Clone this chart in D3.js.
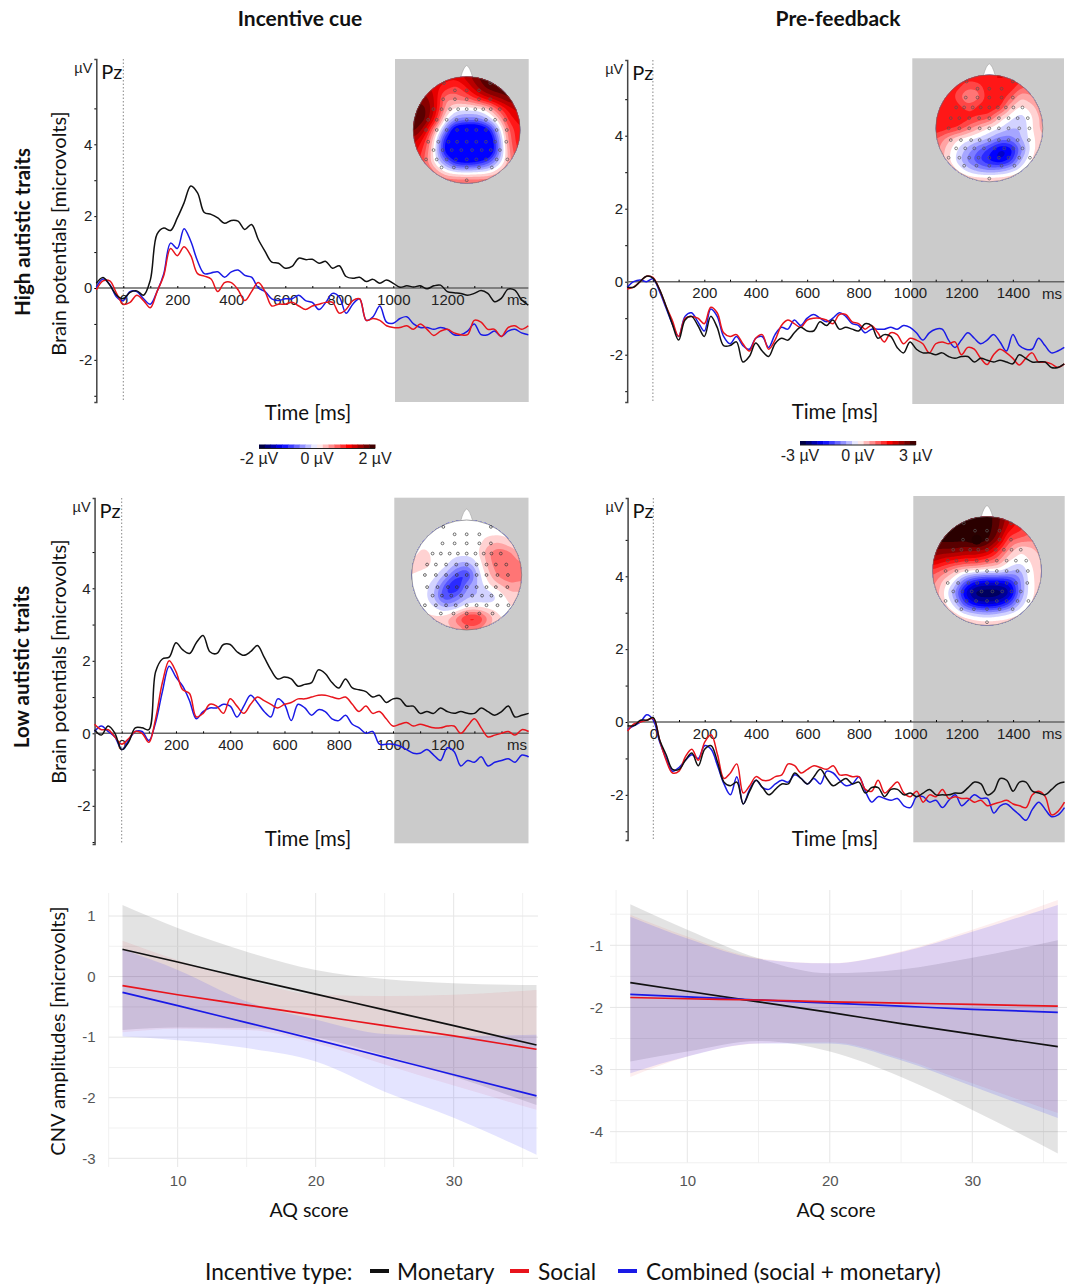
<!DOCTYPE html>
<html>
<head>
<meta charset="utf-8">
<script src="https://cdn.jsdelivr.net/npm/d3@7"></script>
<style>
  body { margin: 0; background: #fff; }
  svg { display: block; }
  .cal { font-family: Lato, sans-serif; fill: #111; }
  .ari { font-family: "Liberation Sans", Arial, sans-serif; fill: #222; }
</style>
</head>
<body>
<div class="canvas"></div>
<script>
// time samples of the ERP traces, ms
const timesCue = d3.range(-100, 1501, 25);
const timesFb = d3.range(-100, 1601, 25);

// high AQ, incentive cue
const highCueMonetary = [.13,.29,.08,-.2,-.3,-.12,-.08,-.2,.22,1.5,1.67,1.6,1.95,2.37,2.84,2.65,2.1,2.05,1.95,1.8,1.88,1.86,1.63,1.77,1.35,1.02,.72,.69,.55,.6,.83,.79,.8,.69,.74,.55,.62,.32,.27,.3,.18,.24,.13,.22,.13,.02,.06,.03,.06,-.02,.06,.08,-.1,-.13,-.15,-.2,-.15,-.07,-.15,-.38,-.29,-.03,-.06,-.33,-.48];
const highCueSocial = [-.05,.2,.2,-.15,-.45,-.4,-.2,-.35,-.55,-.1,.35,1.1,.9,1.15,.9,.4,.33,.25,-.1,.15,.15,-.05,-.35,-.1,.15,-.1,-.5,-.45,-.45,-.4,-.5,-.6,-.5,-.45,-.4,-.4,-.7,-.6,-.35,-.3,-.9,-.85,-.9,-1.05,-1.1,-1.1,-1.05,-1.15,-1,-1.15,-1.32,-1.2,-1.15,-1.25,-1.3,-1.3,-.9,-.95,-1.15,-1.15,-1.35,-1.1,-1.05,-1.15,-1.05];
const highCueCombined = [.02,.25,.1,-.25,-.35,-.1,-.1,-.3,-.45,-.1,.4,1.25,1.1,1.65,1.3,.75,.4,.42,.45,.3,.45,.5,.35,.3,0,-.1,-.3,-.35,-.3,-.3,-.2,-.35,-.4,-.6,-.4,-.15,-.25,-.7,-.45,-.3,-.9,-.8,-.5,-.95,-.98,-.85,-.8,-1,-1.1,-1.1,-1.15,-1.1,-1.15,-1.3,-1.3,-1.2,-1,-1.3,-1.3,-1.2,-1.35,-1.2,-1.15,-1.25,-1.3];

// high AQ, pre-feedback
const highFbMonetary = [-.15,-.15,0,.15,.1,-.2,-.65,-1.15,-1.6,-1.05,-.95,-1.2,-1.5,-.95,-1.25,-1.75,-1.75,-1.65,-2.2,-2.05,-1.68,-1.9,-2.05,-1.7,-1.55,-1.6,-1.4,-1.25,-1.35,-1.35,-1.1,-1.2,-1.05,-1.3,-1.25,-1.3,-1.35,-1.15,-1.2,-1.55,-1.45,-1.5,-1.8,-1.95,-1.65,-1.85,-1.95,-1.95,-2,-1.95,-2.05,-2.1,-2.05,-2.05,-2.2,-2.1,-2.15,-2.2,-2.15,-2.2,-2.25,-2,-2.1,-2.2,-2.2,-2.2,-2.35,-2.35,-2.25];
const highFbSocial = [-.2,-.15,0,.15,.12,-.2,-.65,-1.05,-1.5,-1,-.95,-1,-1.15,-.7,-.85,-1.4,-1.5,-1.45,-1.7,-1.9,-1.55,-1.45,-1.85,-1.6,-1.2,-1.05,-1.15,-1.25,-1.05,-1,-1,-1.05,-1.15,-.9,-.9,-1.1,-1.15,-1.3,-1.2,-1.4,-1.65,-1.4,-1.45,-1.7,-1.55,-1.6,-1.7,-1.95,-1.7,-1.65,-1.7,-1.65,-2,-1.8,-1.85,-2.1,-2.27,-2,-1.85,-1.95,-2.1,-2.28,-2.1,-1.95,-2.2,-2.2,-2.25,-2.35,-2.25];
const highFbCombined = [-.15,0,.05,0,.08,-.25,-.7,-1.15,-1.5,-.95,-.85,-1.1,-1.35,-.75,-.95,-1.5,-1.7,-1.5,-1.75,-1.85,-1.55,-1.5,-1.8,-1.45,-1.25,-1.3,-1.05,-1.2,-1,-.9,-1,-1.1,-1,-.85,-.95,-1.15,-1.2,-1.4,-1.3,-1.3,-1.3,-1.25,-1.3,-1.2,-1.25,-1.4,-1.6,-1.4,-1.3,-1.3,-1.6,-1.8,-1.6,-1.4,-1.55,-1.7,-1.6,-1.45,-1.65,-1.9,-1.45,-1.75,-1.85,-1.85,-1.55,-1.75,-1.95,-1.9,-1.8];

// low AQ, incentive cue
const lowCueMonetary = [.1,-.05,.2,0,-.45,-.25,.15,.15,.1,1.7,2.05,2.1,2.5,2.3,2.2,2.5,2.7,2.25,2.2,2.45,2.45,2.25,2.15,2.25,2.42,2.1,1.75,1.5,1.55,1.5,1.3,1.35,1.4,1.75,1.65,1.4,1.25,1.5,1.25,1.2,1.15,1,1.05,.85,.95,.95,.75,.75,.55,.6,.55,.7,.6,.55,.6,.55,.55,.7,.6,.5,.6,.75,.45,.5,.55];
const lowCueSocial = [.25,.1,.1,-.1,-.3,-.15,.05,0,-.25,.4,1.4,2,1.7,1.2,1.1,.45,.55,.8,.75,.55,.95,.75,.55,.8,1,.9,.8,.7,.8,.85,.95,.95,1,1.05,1.05,1,.95,1,.8,.6,.75,.55,.6,.4,.2,.25,.3,.2,.25,.2,.15,.15,.2,.2,0,.2,.4,.15,-.1,-.05,0,.05,-.05,.1,.05];
const lowCueCombined = [.05,.2,.05,-.1,-.45,-.2,.05,.05,-.2,.3,1.15,1.85,1.55,1.3,.9,.4,.6,.7,.7,.8,.75,.45,.75,1.05,.85,.6,.45,.95,.8,.35,.8,.7,.5,.65,.6,.4,.35,.5,.25,.15,0,.05,-.3,-.3,-.3,-.35,-.45,-.55,-.55,-.45,-.6,-.75,-.4,-.5,-.9,-.75,-.8,-.65,-.9,-.8,-.75,-.7,-.8,-.6,-.65];

// low AQ, pre-feedback
const lowFbMonetary = [-.1,-.1,.05,.05,.12,-.5,-.9,-1.3,-1.3,-1.05,-.85,-1.2,-.75,-.65,-1.1,-1.65,-1.75,-1.65,-2.25,-1.9,-1.6,-1.8,-2,-1.85,-1.7,-1.7,-1.4,-1.55,-1.7,-1.5,-1.3,-1.55,-1.75,-1.65,-1.55,-1.7,-1.65,-1.95,-1.8,-1.8,-2.05,-1.85,-1.85,-2,-1.95,-2.05,-1.95,-1.85,-2,-2,-2,-1.95,-1.95,-1.8,-1.65,-1.7,-2,-1.9,-1.55,-1.6,-1.9,-1.65,-1.65,-1.9,-1.95,-2,-1.85,-1.7,-1.65];
const lowFbSocial = [-.25,-.05,0,.05,.1,-.5,-1.05,-1.4,-1.35,-.95,-.75,-1.05,-.55,-.35,-.9,-1.55,-1.4,-1.15,-1.95,-1.75,-1.5,-1.6,-1.6,-1.5,-1.45,-1.15,-1.2,-1.4,-1.3,-1.2,-1.25,-1.3,-1.2,-1.45,-1.45,-1.5,-1.5,-1.85,-1.9,-1.6,-1.95,-1.8,-1.65,-1.95,-2.05,-1.9,-2.2,-2,-2.05,-1.85,-2.1,-2.05,-2.1,-2.1,-2.2,-2.15,-2.3,-2.25,-2.2,-2.15,-2.25,-2.3,-2.35,-2,-1.9,-2.05,-2.55,-2.45,-2.2];
const lowFbCombined = [-.2,-.1,0,.2,.05,-.55,-1,-1.35,-1.25,-1.05,-.9,-1,-.65,-.75,-1.2,-1.7,-2,-1.5,-2.25,-1.85,-1.6,-1.8,-1.85,-1.7,-1.6,-1.65,-1.45,-1.55,-1.7,-1.55,-1.7,-1.35,-1.4,-1.6,-1.75,-1.7,-1.5,-1.9,-2.2,-2.05,-2.1,-2.15,-2.1,-2.3,-2.35,-2.05,-2.05,-2.2,-2.15,-2.35,-2.15,-2,-2.3,-2.15,-2,-2.1,-2.1,-2.5,-2.3,-2.25,-2.4,-2.55,-2.7,-2.4,-2.2,-2.4,-2.6,-2.55,-2.35];

// regression panels: AQ score, fitted lines and confidence ribbons
const aqScores = [6, 10, 15, 20, 25, 30, 36];

const cueLineMonetary = [.45,.24,-.03,-.29,-.55,-.81,-1.13];
const cueLineSocial = [-.15,-.3,-.47,-.64,-.81,-.98,-1.2];
const cueLineCombined = [-.26,-.48,-.76,-1.04,-1.33,-1.62,-1.97];
const cueUpperMonetary = [1.18,.8,.41,.11,-.04,-.11,-.14];
const cueLowerMonetary = [-.88,-.84,-.85,-1,-1.3,-1.65,-2.12];
const cueUpperSocial = [.59,.27,-.05,-.3,-.32,-.3,-.22];
const cueLowerSocial = [-.92,-.86,-.88,-1.1,-1.45,-1.8,-2.2];
const cueUpperCombined = [.45,.11,-.41,-.71,-.95,-.98,-.96];
const cueLowerCombined = [-.99,-1.05,-1.18,-1.4,-1.9,-2.33,-2.94];

const fbLineMonetary = [-1.6,-1.74,-1.91,-2.08,-2.26,-2.43,-2.63];
const fbLineSocial = [-1.84,-1.86,-1.88,-1.91,-1.93,-1.95,-1.98];
const fbLineCombined = [-1.79,-1.83,-1.88,-1.93,-1.98,-2.03,-2.08];
const fbUpperMonetary = [-.34,-.75,-1.21,-1.45,-1.39,-1.2,-.92];
const fbLowerMonetary = [-2.87,-2.71,-2.54,-2.71,-3.12,-3.65,-4.35];
const fbUpperSocial = [-.51,-.86,-1.21,-1.29,-1.1,-.75,-.27];
const fbLowerSocial = [-3.12,-2.79,-2.58,-2.56,-2.82,-3.22,-3.7];
const fbUpperCombined = [-.54,-.89,-1.22,-1.29,-1.11,-.78,-.35];
const fbLowerCombined = [-3.06,-2.79,-2.58,-2.58,-2.85,-3.27,-3.78];

// scalp maps: 11x11 grids, -1 darkest blue .. 1 darkest red
const topoHighCue = [
  [.6,.6,.6,.6,.6,.7,.85,.95,.95,.95,.95],
  [.7,.7,.6,.5,.4,.55,.75,.9,.95,.95,.95],
  [.8,.8,.65,.25,.3,.35,.5,.65,.75,.85,.85],
  [.9,.9,.65,.2,0,-.02,0,.1,.4,.6,.7],
  [.95,.9,.55,0,-.25,-.3,-.3,-.15,.1,.5,.6],
  [.9,.7,.2,-.3,-.8,-.85,-.85,-.65,-.15,.35,.55],
  [.7,.5,.02,-.6,-.85,-.85,-.85,-.85,-.3,.3,.55],
  [.6,.4,-.02,-.65,-.85,-.85,-.85,-.85,-.35,.25,.5],
  [.55,.35,0,-.3,-.6,-.65,-.6,-.45,-.15,.2,.45],
  [.5,.5,.25,.05,-.03,-.05,-.03,0,.15,.35,.4],
  [.5,.5,.45,.4,.4,.4,.4,.4,.4,.4,.4]
];
const topoHighFb = [
  [.5,.5,.5,.5,.55,.55,.55,.55,.5,.4,.4],
  [.5,.5,.5,.4,.4,.55,.55,.55,.4,.35,.3],
  [.55,.55,.4,.2,.3,.55,.55,.4,.15,.25,.3],
  [.55,.55,.5,.4,.5,.55,.5,.15,.02,.1,.25],
  [.55,.55,.55,.5,.45,.4,.1,-.02,-.12,.03,.2],
  [.55,.5,.45,.3,.15,.02,-.05,-.15,-.15,.03,.2],
  [.35,.2,.05,-.02,-.08,-.15,-.3,-.3,-.15,0,.15],
  [.3,.1,-.05,-.2,-.35,-.5,-.7,-.65,-.3,0,.15],
  [.25,.1,-.1,-.3,-.45,-.6,-.7,-.55,-.15,.05,.2],
  [.3,.2,.05,-.1,-.2,-.25,-.2,-.1,.02,.15,.25],
  [.3,.3,.25,.2,.2,.2,.2,.2,.25,.3,.3]
];
const topoLowCue = [
  [0,0,0,0,0,0,0,0,0,0,0],
  [0,0,0,0,0,0,0,0,0,0,0],
  [0,0,0,0,0,0,0,.12,.15,.05,0],
  [0,.1,.02,.05,0,0,.02,.25,.35,.3,.1],
  [.1,.1,.03,0,-.15,-.2,-.05,.2,.35,.35,.28],
  [.05,0,0,-.15,-.4,-.55,-.12,.12,.3,.35,.3],
  [0,0,-.1,-.4,-.65,-.25,-.15,.03,.12,.22,.2],
  [0,0,-.15,-.5,-.35,-.18,-.15,-.15,-.03,.1,.1],
  [.1,.02,-.03,-.15,-.12,.03,.05,.02,0,.03,.08],
  [.12,.1,.08,.12,.3,.55,.55,.25,.05,.05,.05],
  [.1,.1,.1,.1,.15,.25,.25,.1,.05,.05,.05]
];
const topoLowFb = [
  [.9,.9,.95,1,1,1,.9,.7,.5,.4,.4],
  [.95,1,1,1,1,1,.9,.6,.5,.4,.3],
  [1,1,1,1,1.1,1,.8,.4,.35,.3,.3],
  [.85,.85,.85,.8,.8,.75,.5,.25,.05,.1,.2],
  [.7,.6,.55,.5,.5,.4,.3,.05,0,.05,.15],
  [.4,.3,.15,.05,.02,-.02,-.02,-.1,-.2,.02,.12],
  [.3,.1,-.05,-.4,-.6,-.65,-.65,-.6,-.3,.02,.1],
  [.25,.05,-.25,-.7,-.95,-.95,-.95,-.85,-.3,.02,.1],
  [.25,.08,-.1,-.5,-.7,-.75,-.7,-.5,-.15,.05,.12],
  [.25,.15,.1,-.03,-.1,-.15,-.1,-.03,.05,.12,.2],
  [.25,.2,.2,.2,.15,.15,.15,.15,.2,.2,.25]
];

// electrode rows on the unit head: [row, columns]
const electrodeRows = [
  [-.875, [-.425, .44]],
  [-.74, [-.22, 0, .23]],
  [-.575, [-.44, -.22, 0, .23, .44]],
  [-.39, [-.62, -.47, -.31, -.16, 0, .16, .31, .45, .62]],
  [-.19, [-.72, -.56, -.375, -.19, 0, .18, .36, .53, .72]],
  [0, [-.76, -.56, -.375, -.18, 0, .18, .36, .56, .75]],
  [.22, [-.72, -.53, -.34, -.18, 0, .18, .36, .53, .74]],
  [.375, [-.62, -.45, -.28, -.1, .1, .28, .45, .62]],
  [.55, [-.76, -.56, -.375, -.2, 0, .18, .36, .56, .76]],
  [.7, [-.47, -.24, 0, .23, .47]],
  [.94, [0]]
];

const traceColors = { monetary: '#111', social: '#e8141c', combined: '#1a1ae6' };

const svg = d3.select('.canvas')
    .append('svg')
    .attr('width', 1075)
    .attr('height', 1285);

const topoColor = d3.scaleLinear()
    .domain([-1, -.6, -.15, 0, .15, .55, 1])
    .range(['#00002a', '#0000ff', '#bbbbff', '#ffffff', '#ffbbbb', '#ff0000', '#2a0000'])
    .clamp(true);

// one ERP panel with its scalp map
const drawErp = (p) => {
    const x = d3.scaleLinear().domain([0, 1000]).range([p.x0, p.x1000]);
    const y = d3.scaleLinear().domain([0, 4]).range([p.y0, p.y4]);
    const tMin = -100;
    const tMax = p.times[p.times.length - 1];
    const g = svg.append('g');

    g.append('rect')
        .attr('x', p.grey[0])
        .attr('y', p.grey[1])
        .attr('width', p.grey[2] - p.grey[0])
        .attr('height', p.grey[3] - p.grey[1])
        .attr('fill', '#cbcbcb');

    // dotted stimulus line
    g.append('line')
        .attr('x1', x(0)).attr('x2', x(0))
        .attr('y1', p.top).attr('y2', p.bottom)
        .attr('stroke', '#888')
        .attr('stroke-width', 1)
        .attr('stroke-dasharray', '1.5,2');

    // y axis
    const yFull = d3.scaleLinear()
        .domain([y.invert(p.bottom), y.invert(p.top)])
        .range([p.bottom, p.top]);
    const yAxis = g.append('g')
        .attr('transform', `translate(${x(tMin)},0)`)
        .call(d3.axisLeft(yFull).tickValues([-2, 0, 2, 4]).tickSize(2).tickPadding(2).tickFormat(d => d));
    g.append('g')
        .attr('transform', `translate(${x(tMin)},0)`)
        .call(d3.axisLeft(yFull).tickValues([-3, -1, 1, 3, 5]).tickSize(2).tickFormat(''))
        .call(a => a.select('.domain').remove());
    yAxis.select('.domain').attr('stroke', '#444').attr('stroke-width', 1.5);
    yAxis.selectAll('text').attr('class', 'ari').style('font-size', '15px');

    // zero line, minor ticks, labels
    const xFull = x.copy().domain([tMin, tMax]).range([x(tMin), x(tMax)]);
    g.append('g')
        .attr('transform', `translate(0,${y(0)})`)
        .call(d3.axisTop(xFull).tickValues(d3.range(0, tMax, 100)).tickSize(2).tickFormat(''))
        .call(a => a.select('.domain').attr('stroke', '#666').attr('stroke-width', 1.5).attr('d', `M${x(tMin)},0H${x(tMax)}`));
    const labels = g.append('g')
        .attr('transform', `translate(0,${y(0)})`)
        .call(d3.axisBottom(xFull).tickValues(d3.range(0, p.lastLabel + 1, 200)).tickSize(0).tickPadding(6).tickFormat(d => d));
    labels.select('.domain').remove();
    labels.selectAll('text').attr('class', 'ari').style('font-size', '15px');
    g.append('text')
        .attr('class', 'ari')
        .attr('x', p.msX).attr('y', y(0) + 17)
        .attr('text-anchor', 'middle')
        .style('font-size', '15px')
        .text('ms');

    // traces
    const line = d3.line()
        .x((d, i) => x(p.times[i]))
        .y(d => y(d))
        .curve(d3.curveCatmullRom.alpha(.5));
    [['combined', p.combined], ['social', p.social], ['monetary', p.monetary]].forEach(([k, v]) => {
        g.append('path')
            .attr('d', line(v))
            .attr('fill', 'none')
            .attr('stroke', traceColors[k])
            .attr('stroke-width', 1.5);
    });

    g.append('text').attr('class', 'ari')
        .attr('x', x(tMin) - 13).attr('y', p.top + 14)
        .attr('text-anchor', 'middle')
        .style('font-size', '14.5px')
        .text('µV');
    g.append('text').attr('class', 'cal')
        .attr('x', x(tMin) + 5).attr('y', p.top + 20)
        .style('font-size', '20px')
        .text('Pz');
    g.append('text').attr('class', 'cal')
        .attr('x', p.timeX).attr('y', p.timeY)
        .attr('text-anchor', 'middle')
        .style('font-size', '20.4px')
        .text('Time [ms]');

    drawTopo(g, p);
};

// contour bands over an upsampled copy of the grid
const drawTopo = (g, p) => {
    const grid = p.topo;
    const [cx, cy, r] = p.head;
    const n = grid.length;
    const up = 8;
    const m = (n - 1) * up + 1;
    const field = new Float64Array(m * m);
    for (let j = 0; j < m; j++) {
        for (let i = 0; i < m; i++) {
            const gi = Math.min(Math.floor(i / up), n - 2);
            const gj = Math.min(Math.floor(j / up), n - 2);
            const u = i / up - gi;
            const v = j / up - gj;
            field[j * m + i] = (1 - v) * ((1 - u) * grid[gj][gi] + u * grid[gj][gi + 1])
                + v * ((1 - u) * grid[gj + 1][gi] + u * grid[gj + 1][gi + 1]);
        }
    }
    d3.blur2({ data: field, width: m, height: m }, 2);
    // the first map saturates at plain blue
    if (p.floor !== undefined) field.forEach((v, i) => { field[i] = Math.max(v, p.floor); });

    const levels = d3.range(-.95, 1.05, .1);
    const contours = d3.contours().size([m, m]).thresholds(levels)(field);

    g.append('clipPath').attr('id', `head-${p.name}`)
        .append('circle').attr('cx', cx).attr('cy', cy).attr('r', r);

    // nose
    g.append('path')
        .attr('d', `M${cx - 6},${cy - r + 1}Q${cx - 3},${cy - r - 10} ${cx},${cy - r - 11}Q${cx + 3},${cy - r - 10} ${cx + 6},${cy - r + 1}Z`)
        .attr('fill', '#fff')
        .attr('stroke', '#999')
        .attr('stroke-width', .5);

    const map = g.append('g').attr('clip-path', `url(#head-${p.name})`);
    map.append('circle').attr('cx', cx).attr('cy', cy).attr('r', r).attr('fill', topoColor(-1));
    map.append('g')
        .attr('transform', `translate(${cx - r},${cy - r}) scale(${2 * r / m})`)
        .selectAll('path')
        .data(contours)
        .join('path')
            .attr('d', d3.geoPath())
            .attr('fill', d => topoColor(d.value + .05));

    g.append('circle')
        .attr('cx', cx).attr('cy', cy).attr('r', r)
        .attr('fill', 'none')
        .attr('stroke', '#666')
        .attr('stroke-width', .6);

    const ex = d3.scaleLinear().domain([-1, 1]).range([cx - r, cx + r]);
    const ey = d3.scaleLinear().domain([-1, 1]).range([cy - r, cy + r]);
    const dots = electrodeRows.flatMap(([row, cols]) => cols.map(c => [c, row]));
    g.append('g').selectAll('circle')
        .data(dots)
        .join('circle')
            .attr('cx', d => ex(d[0]))
            .attr('cy', d => ey(d[1]))
            .attr('r', 1.4)
            .attr('fill', 'none')
            .attr('stroke', p.dotColor)
            .attr('stroke-width', .7);

    // the enlarged electrode in the last map
    if (p.bigDot) {
        g.append('circle')
            .attr('cx', ex(p.bigDot[0]))
            .attr('cy', ey(p.bigDot[1]))
            .attr('r', 5)
            .attr('fill', '#220000');
    }
};

const drawColorBar = (x0, x1, yBar, labelY, labels) => {
    const band = d3.scaleLinear().domain([-1, 1]).range([x0, x1]);
    const steps = d3.range(-1, 1, .1);
    svg.append('g').selectAll('rect')
        .data(steps)
        .join('rect')
            .attr('x', d => band(d))
            .attr('y', yBar)
            .attr('width', band(.1) - band(0) + .5)
            .attr('height', 4)
            .attr('fill', d => topoColor(d + .05));
    svg.append('line')
        .attr('x1', x0).attr('x2', x1)
        .attr('y1', yBar + 4).attr('y2', yBar + 4)
        .attr('stroke', '#222');
    svg.append('g').selectAll('text')
        .data(labels)
        .join('text')
            .attr('class', 'ari')
            .attr('x', (d, i) => band(i - 1))
            .attr('y', labelY)
            .attr('text-anchor', 'middle')
            .style('font-size', '16px')
            .text(d => d);
};

// one regression panel in ggplot's minimal look
const drawRegression = (p) => {
    const x = d3.scaleLinear().domain([10, 30]).range([p.x10, p.x30]);
    const y = d3.scaleLinear().domain([p.yA, p.yB]).range([p.pxA, p.pxB]);
    const g = svg.append('g');

    const xGrid = d3.range(5, 36, 5);
    const yGrid = d3.range(p.gridMin, p.gridMax + .01, .5);
    g.append('g').selectAll('line')
        .data(xGrid)
        .join('line')
            .attr('x1', d => x(d)).attr('x2', d => x(d))
            .attr('y1', p.gridTop).attr('y2', p.gridBottom)
            .attr('stroke', d => d % 10 === 0 ? '#e6e6e6' : '#f1f1f1');
    g.append('g').selectAll('line')
        .data(yGrid)
        .join('line')
            .attr('x1', p.gridLeft).attr('x2', p.gridRight)
            .attr('y1', d => y(d)).attr('y2', d => y(d))
            .attr('stroke', d => Number.isInteger(d) ? '#e6e6e6' : '#f1f1f1');

    const ribbon = d3.area()
        .x(d => x(d.aq))
        .y0(d => y(d.lo))
        .y1(d => y(d.hi))
        .curve(d3.curveMonotoneX);
    p.ribbons.forEach(([hi, lo, color, alpha]) => {
        g.append('path')
            .attr('d', ribbon(aqScores.map((aq, i) => ({ aq, hi: hi[i], lo: lo[i] }))))
            .attr('fill', color)
            .attr('fill-opacity', alpha);
    });

    const line = d3.line()
        .x((d, i) => x(aqScores[i]))
        .y(d => y(d))
        .curve(d3.curveMonotoneX);
    p.lines.forEach(([v, color]) => {
        g.append('path')
            .attr('d', line(v))
            .attr('fill', 'none')
            .attr('stroke', color)
            .attr('stroke-width', 1.7);
    });

    const xAxis = g.append('g')
        .attr('transform', `translate(0,${p.gridBottom})`)
        .call(d3.axisBottom(x).tickValues([10, 20, 30]).tickSize(0).tickPadding(p.xPad).tickFormat(d => d));
    const yAxis = g.append('g')
        .attr('transform', `translate(${p.gridLeft},0)`)
        .call(d3.axisLeft(y).tickValues(p.yTicks).tickSize(0).tickPadding(p.yPad).tickFormat(d => d));
    [xAxis, yAxis].forEach(a => {
        a.select('.domain').remove();
        a.selectAll('text').attr('class', 'ari').style('font-size', '15px').style('fill', '#555');
    });

    g.append('text').attr('class', 'cal')
        .attr('x', p.labelX).attr('y', 1217)
        .attr('text-anchor', 'middle')
        .style('font-size', '19.5px')
        .text('AQ score');
};

drawErp({ name: 'hc', times: timesCue, monetary: highCueMonetary, social: highCueSocial, combined: highCueCombined,
    x0: 123.3, x1000: 393.3, y0: 288, y4: 144.3, top: 59, bottom: 402, grey: [395, 59, 528.7, 402], lastLabel: 1200,
    msX: 517, timeX: 308, timeY: 420, topo: topoHighCue, head: [466.7, 130, 53.5], floor: -.6, dotColor: '#555' });
drawErp({ name: 'hf', times: timesFb, monetary: highFbMonetary, social: highFbSocial, combined: highFbCombined,
    x0: 652.9, x1000: 910, y0: 281.7, y4: 135.7, top: 60, bottom: 402, grey: [912.3, 58.3, 1064, 404], lastLabel: 1400,
    msX: 1052, timeX: 835, timeY: 419, topo: topoHighFb, head: [989.3, 128.3, 53.5], dotColor: '#555' });
drawErp({ name: 'lc', times: timesCue, monetary: lowCueMonetary, social: lowCueSocial, combined: lowCueCombined,
    x0: 121.7, x1000: 393, y0: 733.3, y4: 588.3, top: 498, bottom: 844, grey: [394.3, 497.7, 528.5, 843.3], lastLabel: 1200,
    msX: 517, timeX: 308, timeY: 846, topo: topoLowCue, head: [466.7, 575, 55], dotColor: '#333' });
drawErp({ name: 'lf', times: timesFb, monetary: lowFbMonetary, social: lowFbSocial, combined: lowFbCombined,
    x0: 653.3, x1000: 910.3, y0: 722, y4: 576.3, top: 498, bottom: 840, grey: [913.3, 496, 1064.7, 842.3], lastLabel: 1400,
    msX: 1052, timeX: 835, timeY: 846, topo: topoLowFb, head: [987, 571, 54.5], dotColor: '#555', bigDot: [-.19, -.575] });

drawColorBar(259, 375, 444.5, 464, ['-2 µV', '0 µV', '2 µV']);
drawColorBar(800, 915.7, 441, 461, ['-3 µV', '0 µV', '3 µV']);

drawRegression({ x10: 177.7, x30: 453.7, yA: 1, yB: -3, pxA: 916, pxB: 1158.3,
    gridMin: -3, gridMax: 1, gridLeft: 108.7, gridRight: 538, gridTop: 893, gridBottom: 1167,
    yTicks: [1, 0, -1, -2, -3], xPad: 8, yPad: 13, labelX: 309,
    ribbons: [[cueUpperMonetary, cueLowerMonetary, '#000', .11], [cueUpperSocial, cueLowerSocial, '#e8141c', .07], [cueUpperCombined, cueLowerCombined, '#2020ff', .12]],
    lines: [[cueLineMonetary, '#111'], [cueLineSocial, '#e8141c'], [cueLineCombined, '#1a1ae6']] });
drawRegression({ x10: 687.3, x30: 972.3, yA: -1, yB: -4, pxA: 945.3, pxB: 1131.7,
    gridMin: -4.5, gridMax: -.5, gridLeft: 610, gridRight: 1067, gridTop: 890, gridBottom: 1163,
    yTicks: [-1, -2, -3, -4], xPad: 12, yPad: 7, labelX: 836,
    ribbons: [[fbUpperMonetary, fbLowerMonetary, '#000', .11], [fbUpperSocial, fbLowerSocial, '#e8141c', .07], [fbUpperCombined, fbLowerCombined, '#2020ff', .14]],
    lines: [[fbLineMonetary, '#111'], [fbLineCombined, '#1a1ae6'], [fbLineSocial, '#e8141c']] });

// column titles and side labels
const texts = [
    ['Incentive cue', 300, 26, 0, 'bold', 21],
    ['Pre-feedback', 838, 26, 0, 'bold', 21],
    ['High autistic traits', 30, 232, -90, 'bold', 20.5],
    ['Low autistic traits', 29, 667, -90, 'bold', 20.5],
    ['Brain potentials [microvolts]', 66, 233.5, -90, 'normal', 20],
    ['Brain potentials [microvolts]', 66, 661.5, -90, 'normal', 20],
    ['CNV amplitudes [microvolts]', 65, 1031, -90, 'normal', 20]
];
svg.append('g').selectAll('text')
    .data(texts)
    .join('text')
        .attr('class', 'cal')
        .attr('text-anchor', 'middle')
        .attr('transform', d => `translate(${d[1]},${d[2]}) rotate(${d[3]})`)
        .style('font-weight', d => d[4])
        .style('font-size', d => `${d[5]}px`)
        .text(d => d[0]);

// legend
const legendItems = [
    ['Monetary', '#111', 370, 397],
    ['Social', '#e8141c', 510, 538],
    ['Combined (social + monetary)', '#1a1ae6', 618, 646]
];
const legend = svg.append('g').style('font-size', '22.7px');
legend.append('text').attr('class', 'cal').attr('x', 205).attr('y', 1280).text('Incentive type:');
legendItems.forEach(([name, color, sx, tx]) => {
    legend.append('rect').attr('x', sx).attr('y', 1269).attr('width', 19).attr('height', 4).attr('fill', color);
    legend.append('text').attr('class', 'cal').attr('x', tx).attr('y', 1280).text(name);
});
</script>
</body>
</html>
